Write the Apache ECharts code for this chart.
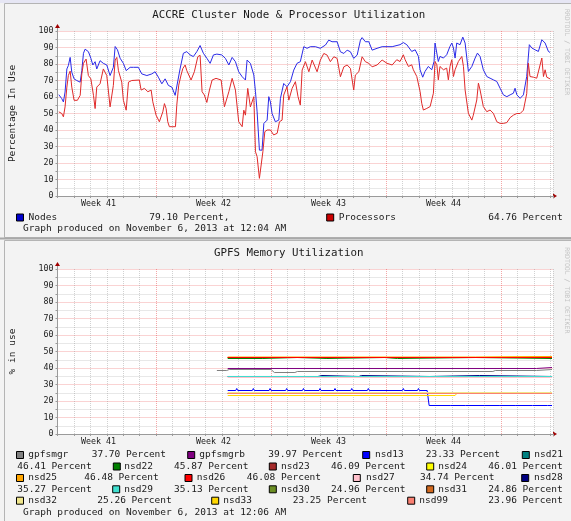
<!DOCTYPE html>
<html>
<head>
<meta charset="utf-8">
<title>ACCRE Cluster Utilization</title>
<script src="https://cdn.jsdelivr.net/npm/echarts@6/dist/echarts.min.js"></script>
<style>
  html, body { margin: 0; padding: 0; background: #f3f3f3; }
  #chart { width: 571px; height: 521px; }
</style>
</head>
<body>
<div id="chart"></div>
<script>
// x is measured in days from the first day line of the month graph
const dayMax = 30.16
const weekTicks = [2.5, 9.5, 16.5, 23.5]
const weekLabels = ['Week 41', 'Week 42', 'Week 43', 'Week 44']

// ---- ACCRE cluster node / processor utilization (percent) ----
const nodeDays = [0.08,0.26,0.36,0.46,0.57,0.66,0.77,0.87,1.01,1.17,1.38,1.48,1.58,1.68,1.88,2.03,2.15,2.29,2.39,2.59,2.79,3.00,3.20,3.40,3.51,3.65,3.81,4.01,4.18,4.42,4.62,4.92,5.13,5.44,5.74,5.94,6.14,6.35,6.55,6.75,6.96,7.16,7.26,7.46,7.66,7.87,8.07,8.27,8.48,8.68,8.88,9.09,9.29,9.49,9.70,10.00,10.22,10.43,10.63,10.83,11.03,11.24,11.44,11.54,11.74,11.95,12.05,12.15,12.29,12.45,12.56,12.76,12.86,12.96,13.06,13.26,13.47,13.57,13.77,13.97,14.18,14.38,14.58,14.78,14.99,15.19,15.39,15.70,16.00,16.31,16.51,16.71,17.02,17.22,17.43,17.63,17.83,18.03,18.24,18.44,18.54,18.74,18.95,19.15,19.45,19.76,20.37,20.85,21.05,21.26,21.56,21.77,21.97,22.07,22.23,22.37,22.57,22.78,22.92,22.98,23.09,23.18,23.28,23.49,23.69,23.89,24.00,24.10,24.20,24.30,24.50,24.67,24.81,25.01,25.22,25.42,25.56,25.72,25.92,26.13,26.33,26.53,26.74,26.94,27.14,27.35,27.55,27.75,27.85,27.96,28.16,28.36,28.56,28.72,28.87,29.07,29.27,29.48,29.68,29.88,29.98]
const nodeValues = [61.4,59,57,63,77,79,84,75,71,70,69,76,86.5,89,87.5,83.5,79.4,81.4,77,82,80.4,79.4,73,78,90.6,88.6,83.5,80.4,76,78,78,78,74,73,74,75.3,72,68,71,67,66,61,62,77,86.5,87.5,85.5,84.5,87.5,91.2,86.5,83.5,80.4,85.5,86,85.5,83.4,79.4,84,81.4,75.3,72.3,70.3,82.4,80.4,73.3,63.2,51,27.8,27.8,44,46,60.2,57,50,45,46,59.2,68.2,66.2,69.3,76.3,80.4,81.4,90.5,89.5,90.5,90.5,89.5,91.5,94.5,93.5,93.5,87.4,86.4,88.4,87.4,83.4,85.4,94.5,96,93.5,93.5,88.4,89.5,90.5,90.5,91.7,93,91.7,87.6,88.6,84.6,76.5,72,75.5,78.5,76.5,81.5,92.7,93.7,81.5,84.6,83.6,85.6,90.7,92.7,89.7,83.6,92.7,91.7,96.3,92.7,75.5,78.5,83.6,86.6,84.6,76.5,72.4,71.4,70.4,69.4,65.3,61.3,60.2,61.3,62.3,65.3,61.3,59.2,61.3,72.4,91.7,89.7,88.6,87.6,94.7,92.7,87.6,87]

const procDays = [0.08,0.26,0.36,0.46,0.57,0.66,0.77,0.87,1.01,1.21,1.38,1.48,1.58,1.74,1.88,2.03,2.19,2.29,2.39,2.59,2.79,3.00,3.20,3.40,3.51,3.61,3.71,3.91,4.01,4.18,4.32,4.52,4.98,5.09,5.29,5.50,5.70,5.80,6.00,6.20,6.41,6.51,6.61,6.71,6.81,7.02,7.18,7.26,7.38,7.52,7.63,7.77,7.87,7.97,8.13,8.33,8.54,8.68,8.80,8.94,9.09,9.25,9.41,9.65,9.96,10.16,10.43,10.63,10.83,11.03,11.24,11.34,11.44,11.58,11.74,11.95,12.05,12.15,12.29,12.41,12.50,12.62,12.76,12.96,13.16,13.37,13.51,13.67,13.77,13.97,14.08,14.28,14.48,14.64,14.78,14.89,15.09,15.30,15.50,15.80,16.00,16.21,16.41,16.61,16.82,17.02,17.22,17.43,17.63,17.83,18.03,18.13,18.34,18.54,18.74,18.95,19.15,19.45,19.76,20.06,20.37,20.65,20.85,21.05,21.16,21.36,21.56,21.66,21.87,22.07,22.17,22.27,22.48,22.68,22.88,22.98,23.09,23.18,23.28,23.49,23.69,23.79,23.89,24.00,24.10,24.20,24.40,24.50,24.61,24.71,24.81,25.01,25.22,25.31,25.52,25.62,25.72,25.92,26.13,26.33,26.53,26.74,26.94,27.14,27.35,27.55,27.75,27.96,28.16,28.36,28.56,28.66,28.76,28.97,29.17,29.27,29.48,29.58,29.68,29.78,29.98]
const procValues = [51,50,48,54,66,73,75.7,66,58,58,61,74,80.4,83,73,71,61,53,66,68,77,73,54,67,82.4,84,76,69,58,52,69,70,70.3,64.2,65.2,63.2,64.2,57.1,49,45,51,56,53,45,42,42,42,55,67.2,73.3,77.3,79.4,76,77,70.3,75.3,84.4,85.3,63.2,61.2,56.7,64.2,70.3,71.3,70.3,54.1,63.2,71.3,64.2,45,42,52,49,65.2,54,60.2,26.8,23.8,10.7,11.7,26.8,39,40,40,37,38,45,46,61.2,66.2,58.1,65.2,69.3,60.2,55.1,76.3,81.4,75.3,82.4,75.3,82.4,86.4,85.4,81.4,84.4,83.4,72.3,78.3,79.4,77.3,64.2,73.3,75.3,84.4,81.4,80.4,78.3,79.4,82.4,80.4,79.4,82.6,81.5,85.6,82.6,78.5,79.5,76.5,72.4,63.3,56.2,52.1,53.1,54.2,62.3,81.5,79.5,70.4,78.5,76.5,77.5,70.4,78.5,82.6,72.4,76.5,81.5,80.5,84.6,78.5,64.3,50.1,46,49,58.2,68.4,64.3,54.2,51.1,52.1,50.1,45,44,44,44.5,47.5,49,50,50,52,62,80.5,72.4,72,71.4,72.4,83.6,72.4,76.5,72,71]

const clusterNames = ['Nodes', 'Processors']
const clusterColors = ['#0000cc', '#cc0000']
const clusterLineColors = ['#2a2ae8', '#e02a2a']
const clusterPrints = ['79.10 Percent,', '64.76 Percent']

// ---- GPFS memory utilization (percent), [day, value] breakpoints ----
const gpfsmgr = [[9.70,38.48],[10.30,38.48],[10.45,39.09],[13.00,39.09],[13.20,37.27],[14.45,37.27],[14.60,37.88],[26.50,37.88],[26.65,38.48],[29.15,38.48],[29.25,39.09],[30.10,39.09]]
const gpfsmgrb = [[10.36,39.7],[29.15,39.7],[29.25,40.3],[30.10,40.3]]
const nsd13 = [[10.36,26.36],[10.85,26.36],[10.91,27.58],[10.97,26.36],[11.86,26.36],[11.92,27.58],[11.98,26.36],[12.88,26.36],[12.94,27.58],[13.00,26.36],[13.89,26.36],[13.95,27.58],[14.01,26.36],[14.91,26.36],[14.97,27.58],[15.03,26.36],[15.92,26.36],[15.98,27.58],[16.04,26.36],[16.83,26.36],[16.89,27.58],[16.95,26.36],[17.85,26.36],[17.91,27.58],[17.97,26.36],[18.86,26.36],[18.92,27.58],[18.98,26.36],[20.99,26.36],[21.05,27.58],[21.11,26.36],[21.91,26.36],[21.97,27.58],[22.03,26.36],[22.50,26.36],[22.62,17.27],[23.94,17.27],[24.00,17.88],[24.06,17.27],[24.85,17.27],[24.91,17.88],[24.97,17.27],[25.97,17.27],[26.03,17.88],[26.09,17.27],[26.88,17.27],[26.94,17.88],[27.00,17.27],[27.90,17.27],[27.96,17.88],[28.02,17.27],[28.91,17.27],[28.97,17.88],[29.03,17.27],[29.82,17.27],[29.88,17.88],[29.94,17.27],[30.10,17.27]]
const nsd21 = [[10.36,46.36],[30.10,46.36]]
const nsd22 = [[10.36,45.76],[12.50,45.76],[12.55,46.36],[14.60,46.36],[14.65,45.76],[16.40,45.76],[16.45,46.36],[19.90,46.36],[19.95,45.76],[20.70,45.76],[20.75,46.36],[25.45,46.36],[25.50,45.76],[30.10,45.76]]
const nsd23 = [[10.36,46.36],[30.10,46.36]]
const nsd24 = [[10.36,46.36],[25.45,46.36],[25.50,46.97],[30.10,46.97]]
const nsd25 = [[10.36,46.66],[25.45,46.66],[25.50,46.97],[30.10,46.97]]
const nsd26 = [[10.36,46.36],[30.10,46.36]]
const nsd27 = [[10.36,34.24],[30.10,34.24]]
const nsd28 = [[10.36,34.85],[15.85,34.85],[15.90,35.45],[16.10,35.45],[16.15,34.85],[18.35,34.85],[18.40,35.45],[18.50,35.45],[18.55,34.85],[22.65,34.85],[22.70,35.45],[25.70,35.45],[25.75,34.85],[30.10,34.85]]
const nsd29 = [[10.36,34.85],[30.10,34.85]]
const nsd30 = [[10.36,24.55],[30.10,24.55]]
const nsd31 = [[10.36,24.55],[15.90,24.55],[15.95,25.15],[16.10,25.15],[16.15,24.55],[25.30,24.55],[25.40,25.15],[30.10,25.15]]
const nsd32 = [[10.36,25.15],[30.10,25.15]]
const nsd33 = [[10.36,23.33],[24.20,23.33],[24.30,24.55],[30.10,24.55]]
const nsd99 = [[10.36,24.55],[30.10,24.55]]

const gpfsNames = ['gpfsmgr','gpfsmgrb','nsd13','nsd21','nsd22','nsd23','nsd24','nsd25','nsd26','nsd27','nsd28','nsd29','nsd30','nsd31','nsd32','nsd33','nsd99']
const gpfsData = [gpfsmgr,gpfsmgrb,nsd13,nsd21,nsd22,nsd23,nsd24,nsd25,nsd26,nsd27,nsd28,nsd29,nsd30,nsd31,nsd32,nsd33,nsd99]
const gpfsColors = ['#808080','#800080','#0000ff','#008080','#008000','#a52a2a','#ffff00','#ffa500','#ff0000','#ffc0cb','#000080','#40e0d0','#6b8e23','#d2691e','#f0e68c','#ffd700','#fa8072']
const gpfsPrints = ['37.70','39.97','23.33','46.41','45.87','46.09','46.01','46.48','46.08','34.74','35.27','35.13','24.96','24.86','25.26','23.25','23.96']

// legend layout of the GPFS graph: [row, box x, name x, value row, value x]
const gpfsLegendPos = [
  [0, 16.5, 28.3, 0, 91.7], [0, 187.7, 199.3, 0, 268.3], [0, 362.7, 375, 0, 425.7], [0, 522.3, 534.3, 1, 17.3],
  [1, 113.3, 124.3, 1, 174], [1, 269.3, 281, 1, 331], [1, 426.7, 438.3, 1, 488.3],
  [2, 16.5, 28.3, 2, 84.3], [2, 185, 196.7, 2, 246.7], [2, 353.3, 366, 2, 420], [2, 521.7, 534, 3, 17.3],
  [3, 112.7, 124.3, 3, 174], [3, 269.3, 281, 3, 331], [3, 426.7, 438.3, 3, 488.3],
  [4, 16.5, 28.3, 4, 97.3], [4, 211.7, 223.3, 4, 292.7], [4, 407.7, 419.3, 4, 488.3]
]
const gpfsRowY = [455, 466.5, 478, 489.3, 500.7]

const mono = '"DejaVu Sans Mono", monospace'
const textColor = '#1a1a1a'
const axisColor = '#9a9a9a'
const minorGrid = 'rgba(140,140,140,0.4)'
const majorGrid = 'rgba(230,60,60,0.45)'

const panels = [
  { top: 31, title: 'ACCRE Cluster Node & Processor Utilization', titleY: 15, yName: 'Percentage In Use' },
  { top: 269, title: 'GPFS Memory Utilization', titleY: 253.3, yName: '% in use' }
]
const plotLeft = 57.5
const plotWidth = 495.5
const plotHeight = 165

const chart = echarts.init(document.getElementById('chart'))

const grids = panels.map(p => ({
  left: plotLeft, top: p.top, width: plotWidth, height: plotHeight,
  show: true, backgroundColor: '#ffffff', borderWidth: 0,
  outerBoundsMode: 'none'
}))

const xAxes = []
panels.forEach((p, i) => {
  // day grid: every 7th line (the week boundary) is the red one
  xAxes.push({
    type: 'value', gridIndex: i, position: 'bottom', min: 0, max: dayMax, interval: 1,
    axisLabel: { show: false },
    axisLine: { show: true, onZero: false, lineStyle: { color: axisColor } },
    axisTick: { show: true, length: 2, lineStyle: { color: axisColor } },
    splitLine: { show: true, lineStyle: { type: [1, 1], width: 1,
      color: [minorGrid, minorGrid, minorGrid, minorGrid, minorGrid, minorGrid, majorGrid] } }
  })
  xAxes.push({
    type: 'value', gridIndex: i, position: 'bottom', offset: 0, min: 0, max: dayMax, interval: 0.5,
    axisLine: { show: false, onZero: false }, axisTick: { show: false }, splitLine: { show: false },
    axisLabel: {
      margin: 4, fontFamily: mono, fontSize: 8.3, color: textColor,
      formatter: v => {
        const k = weekTicks.indexOf(v)
        return k >= 0 ? weekLabels[k] : ''
      }
    }
  })
})

const yAxes = panels.map((p, i) => ({
  type: 'value', gridIndex: i, min: 0, max: 100, interval: 5,
  name: p.yName, nameLocation: 'middle', nameRotate: 90, nameGap: 40,
  nameTextStyle: { fontFamily: mono, fontSize: 9.5, color: textColor },
  axisLine: { show: true, lineStyle: { color: axisColor } },
  axisTick: { show: true, length: 2, lineStyle: { color: axisColor } },
  axisLabel: { margin: 4, fontFamily: mono, fontSize: 8.3, color: textColor,
    formatter: v => (v % 10 === 0 ? String(v) : '') },
  splitLine: { show: true, lineStyle: { type: [1, 1], width: 1, color: [majorGrid, minorGrid] } }
}))

const series = []
const clusterSets = [[nodeDays, nodeValues], [procDays, procValues]]
clusterSets.forEach((s, i) => {
  series.push({
    name: clusterNames[i], type: 'line', xAxisIndex: 0, yAxisIndex: 0,
    data: s[0].map((d, k) => [d, s[1][k]]),
    showSymbol: false, symbol: 'none', silent: true,
    lineStyle: { width: 1, color: clusterLineColors[i] }
  })
})
gpfsData.forEach((d, i) => {
  series.push({
    name: gpfsNames[i], type: 'line', xAxisIndex: 2, yAxisIndex: 1,
    data: d, showSymbol: false, symbol: 'none', silent: true,
    lineStyle: { width: 1, color: gpfsColors[i] }
  })
})

function text(x, y, str, size, extra) {
  return Object.assign({
    type: 'text', x: x, y: y, silent: true,
    style: { text: str, font: size + 'px ' + mono, fill: textColor, align: 'left', verticalAlign: 'middle' }
  }, extra || {})
}
function box(x, yc, color) {
  return { type: 'rect', silent: true, shape: { x: x, y: yc - 3.5, width: 7, height: 7 },
    style: { fill: color, stroke: '#000', lineWidth: 1 } }
}

const graphics = [
  // page strip and panel borders
  { type: 'rect', silent: true, shape: { x: 0, y: 0, width: 571, height: 3 }, style: { fill: '#e6e6f4' } },
  { type: 'rect', silent: true, shape: { x: 4.5, y: 3.5, width: 567, height: 234 }, style: { fill: 'none', stroke: '#b4b4b4', lineWidth: 1 } },
  { type: 'rect', silent: true, shape: { x: 4.5, y: 240.5, width: 567, height: 290 }, style: { fill: 'none', stroke: '#b4b4b4', lineWidth: 1 } },
  { type: 'rect', silent: true, shape: { x: 0, y: 237.5, width: 571, height: 2 }, style: { fill: '#a8a8a8' } }
]
panels.forEach(p => {
  const bottom = p.top + plotHeight
  graphics.push(text(288.7, p.titleY, p.title, 10.8, {}))
  graphics[graphics.length - 1].style.align = 'center'
  // axis arrows
  graphics.push({ type: 'line', silent: true, shape: { x1: plotLeft, y1: p.top, x2: plotLeft, y2: p.top - 4 }, style: { stroke: axisColor, lineWidth: 1 } })
  graphics.push({ type: 'polygon', silent: true, shape: { points: [[plotLeft - 2.5, p.top - 3], [plotLeft + 2.5, p.top - 3], [plotLeft, p.top - 7]] }, style: { fill: '#a00000' } })
  graphics.push({ type: 'polygon', silent: true, shape: { points: [[plotLeft + plotWidth, bottom - 2.5], [plotLeft + plotWidth, bottom + 2.5], [plotLeft + plotWidth + 4, bottom]] }, style: { fill: '#a00000' } })
  // rrdtool watermark
  graphics.push(text(567, p.titleY + 37, 'RRDTOOL / TOBI OETIKER', 6.5, { rotation: -Math.PI / 2 }))
  const wm = graphics[graphics.length - 1].style
  wm.align = 'center'
  wm.fill = '#c4c4c4'
})

// cluster legend
const clusterLegendPos = [[16.5, 28.5, 149.3], [326.7, 338.7, 488.3]]
clusterNames.forEach((n, i) => {
  const pos = clusterLegendPos[i]
  graphics.push(box(pos[0], 217.5, clusterColors[i]))
  graphics.push(text(pos[1], 217.5, n, 9.5))
  graphics.push(text(pos[2], 217.5, clusterPrints[i], 9.5))
})
graphics.push(text(23, 228.3, 'Graph produced on November 6, 2013 at 12:04 AM', 9.5))

// GPFS legend
gpfsNames.forEach((n, i) => {
  const pos = gpfsLegendPos[i]
  graphics.push(box(pos[1], gpfsRowY[pos[0]], gpfsColors[i]))
  graphics.push(text(pos[2], gpfsRowY[pos[0]], n, 9.5))
  graphics.push(text(pos[4], gpfsRowY[pos[3]], gpfsPrints[i] + ' Percent', 9.5))
})
graphics.push(text(23, 512.5, 'Graph produced on November 6, 2013 at 12:06 AM', 9.5))

chart.setOption({
  backgroundColor: '#f3f3f3',
  animation: false,
  grid: grids,
  xAxis: xAxes,
  yAxis: yAxes,
  series: series,
  graphic: { elements: graphics }
})
</script>
</body>
</html>
